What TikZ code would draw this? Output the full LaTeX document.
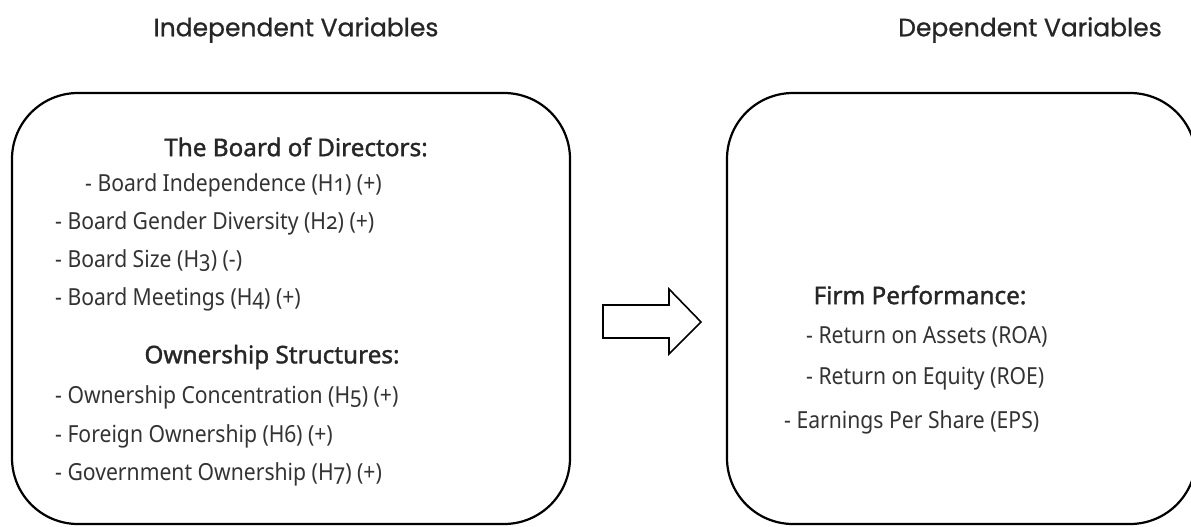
\documentclass[tikz,border=0pt]{standalone}
\usepackage{fontspec}
\setmainfont{Noto Sans}[Numbers=OldStyle, FakeStretch=0.9]
\newfontfamily\groupfont{Noto Sans}[Numbers=OldStyle, FakeBold=1.5]
\newfontfamily\headfont{Poppins}[FakeBold=0.8]
\begin{document}
\begin{tikzpicture}[x=1pt,y=-1pt,
  panel/.style={draw=black, line width=2.2pt, rounded corners=66pt},
  heading/.style={font=\headfont\fontsize{25}{28}\selectfont, text=black!85, inner sep=0pt},
  group/.style={font=\groupfont\fontsize{24.3}{28}\selectfont, text=black!85, inner sep=0pt},
  item/.style={font=\fontsize{23.5}{26}\selectfont, text=black!80, anchor=west, inner sep=0pt},
  bigarrow/.style={draw=black, line width=1.6pt, fill=white, line join=miter}]
\useasboundingbox (0,0) rectangle (1191,527);
% column headings
\node[heading] (hind) at (296,30) {Independent Variables};
\node[heading] (hdep) at (1030,30) {Dependent Variables};
% the two panels
\draw[panel] (12,93) rectangle (570,524);
\draw[panel] (727,93) rectangle (1196,524);
% independent variables
\node[group] (board) at (296,147) {The Board of Directors:};
\node[item] (b1) at (85,185) {- Board Independence (H1) (+)};
\node[item] (b2) at (55,223) {- Board Gender Diversity (H2) (+)};
\node[item] (b3) at (55,261) {- Board Size (H3) (-)};
\node[item] (b4) at (55,299) {- Board Meetings (H4) (+)};
\node[group] (own) at (272,357) {Ownership Structures:};
\node[item] (o1) at (55,397) {- Ownership Concentration (H5) (+)};
\node[item] (o2) at (55,436) {- Foreign Ownership (H6) (+)};
\node[item] (o3) at (55,474) {- Government Ownership (H7) (+)};
% dependent variables
\node[group] (firm) at (920,295) {Firm Performance:};
\node[item] (f1) at (806,337) {- Return on Assets (ROA)};
\node[item] (f2) at (806,379) {- Return on Equity (ROE)};
\node[item] (f3) at (784,422) {- Earnings Per Share (EPS)};
% block arrow between the panels
\draw[bigarrow] (603,305) -- (669,305) -- (669,289) -- (701,322) -- (669,354) -- (669,338) -- (603,338) -- cycle;
\end{tikzpicture}
\end{document}
